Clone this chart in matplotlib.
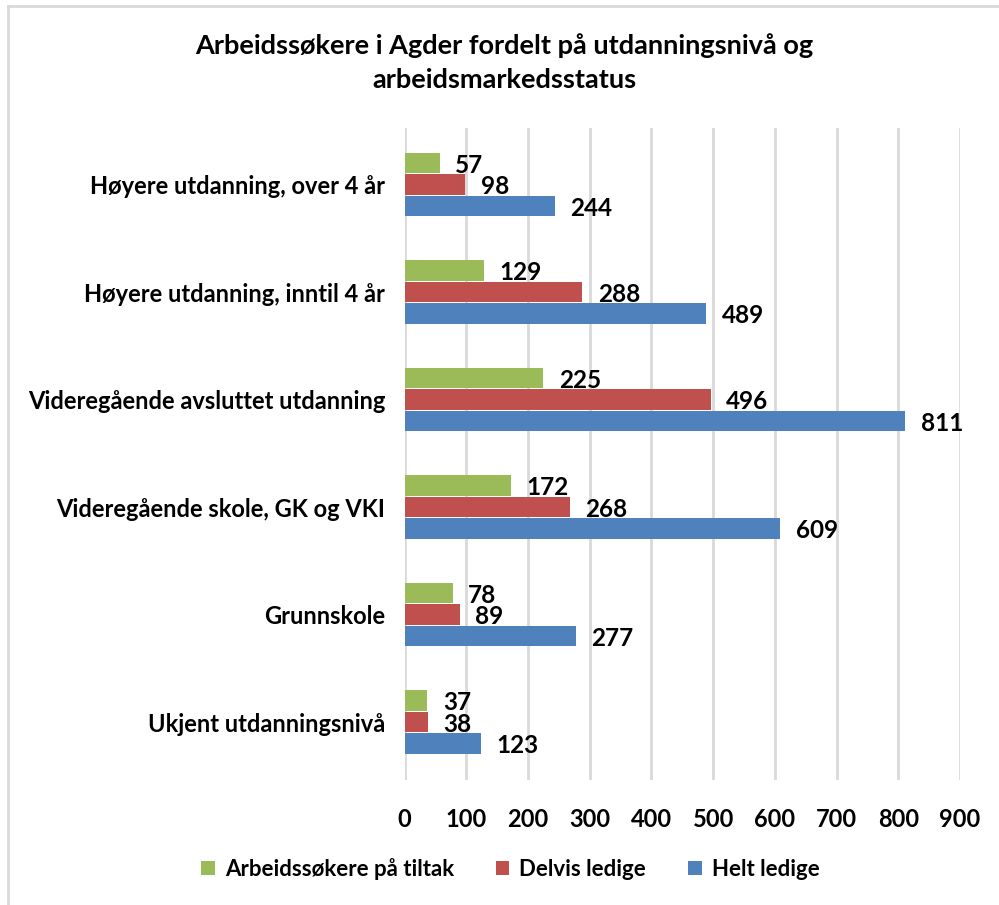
import numpy as np
import matplotlib.pyplot as plt
from matplotlib.patches import Patch
from matplotlib.lines import Line2D

plt.rcParams['font.family'] = ['Lato', 'DejaVu Sans']
plt.rcParams['font.weight'] = 'bold'

# data, bottom category first
categories = ["Ukjent utdanningsnivå", "Grunnskole", "Videregående skole, GK og VKI",
              "Videregående avsluttet utdanning", "Høyere utdanning, inntil 4 år",
              "Høyere utdanning, over 4 år"]
tiltak = [37, 78, 172, 225, 129, 57]
delvis = [38, 89, 268, 496, 288, 98]
helt = [123, 277, 609, 811, 489, 244]

series_names = ["Arbeidssøkere på tiltak", "Delvis ledige", "Helt ledige"]
colors = ["#9BBB59", "#C0504D", "#4F81BD"]

fig = plt.figure(figsize=(9.99, 9.05), dpi=100)
ax = fig.add_axes([0.405, 0.138, 0.556, 0.721])

y = np.arange(len(categories))
h = 0.19
offsets = [h + 0.01, 0, -(h + 0.01)]
for vals, off, col in zip([tiltak, delvis, helt], offsets, colors):
    ax.barh(y + off, vals, height=h, color=col, zorder=3)
    for yi, v in zip(y, vals):
        ax.text(v + 25, yi + off - 0.02, str(v), va='center', ha='left',
                fontsize=17.5, fontweight='bold', color='black', zorder=4)

ax.set_xlim(0, 900)
ax.set_ylim(-0.54, 5.53)
ax.set_xticks(np.arange(0, 901, 100))
ax.set_yticks(y)
ax.set_yticklabels(categories)
ax.tick_params(axis='both', length=0, labelsize=17)
ax.tick_params(axis='y', pad=14)
ax.tick_params(axis='x', pad=20)
for lab in ax.get_xticklabels() + ax.get_yticklabels():
    lab.set_fontweight('bold')
ax.grid(axis='x', color='#D9D9D9', linewidth=2, zorder=0)
for s in ax.spines.values():
    s.set_visible(False)

fig.text(0.505, 0.931, "Arbeidssøkere i Agder fordelt på utdanningsnivå og\narbeidsmarkedsstatus",
         ha='center', va='center', fontsize=19.5, fontweight='bold', linespacing=1.5)

handles = [Patch(facecolor=c) for c in colors]
fig.legend(handles, series_names, loc='center', bbox_to_anchor=(0.511, 0.04), ncol=3,
           frameon=False, fontsize=16, handlelength=0.6, handleheight=0.6,
           handletextpad=0.45, columnspacing=1.9)

# thin frame around the chart area (top and left edges)
fig.add_artist(Line2D([8 / 999, 1], [1 - 6 / 905, 1 - 6 / 905], color='#D9D9D9', linewidth=2,
                      transform=fig.transFigure))
fig.add_artist(Line2D([8 / 999, 8 / 999], [0, 1 - 6 / 905], color='#D9D9D9', linewidth=2,
                      transform=fig.transFigure))

fig.savefig("out.png", dpi=100, facecolor='white')
